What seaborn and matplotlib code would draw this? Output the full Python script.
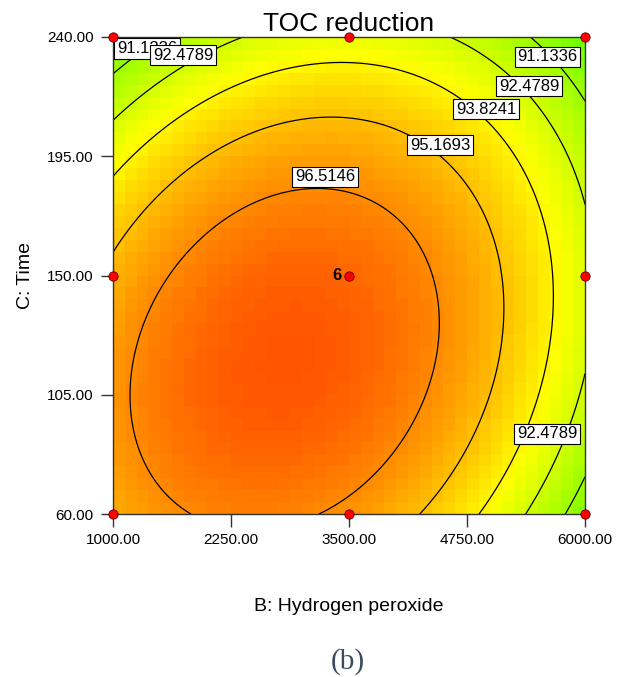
import numpy as np
import pandas as pd
import matplotlib
matplotlib.use("Agg")
import matplotlib.pyplot as plt
from matplotlib.colors import LinearSegmentedColormap
import seaborn as sns

# Factor ranges in actual units
B_RANGE = [1000.0, 6000.0]   # B: hydrogen peroxide
C_RANGE = [60.0, 240.0]      # C: time

# Fitted quadratic model in coded factors: intercept, B, C, BC, B^2, C^2
MODEL_COEFS = [97.391, -1.329, -1.567, 1.261, -3.25, -2.72]

# Contour levels shown on the plot
CONTOUR_LEVELS = [91.1336, 92.4789, 93.8241, 95.1693, 96.5146]

# Design points (factorial + centre)
DESIGN_B = [1000, 1000, 1000, 3500, 3500, 3500, 6000, 6000, 6000]
DESIGN_C = [60, 150, 240, 60, 150, 240, 60, 150, 240]
CENTER_REPLICATES = "6"

X_TICKS = [1000, 2250, 3500, 4750, 6000]
Y_TICKS = [60, 105, 150, 195, 240]

# Colour scale of the response (blue = low, red = high)
COLOR_RANGE = [74.5, 100.0]


def predict(B, C):
    b = (B - 3500.0) / 2500.0
    c = (C - 150.0) / 90.0
    k0, kb, kc, kbc, kbb, kcc = MODEL_COEFS
    return k0 + kb * b + kc * c + kbc * b * c + kbb * b ** 2 + kcc * c ** 2


sns.set_style("white")
plt.rcParams["font.family"] = ["Liberation Sans", "DejaVu Sans"]
plt.rcParams["text.color"] = "black"
plt.rcParams["axes.labelcolor"] = "black"
plt.rcParams["xtick.color"] = "black"
plt.rcParams["ytick.color"] = "black"

fig = plt.figure(figsize=(6.23, 6.77), dpi=100)
ax = fig.add_axes([113 / 623, 1 - 514 / 677, 472 / 623, 477 / 677])

# Blocky shaded surface (40 x 40 cells)
n = 40
be = np.linspace(*B_RANGE, n + 1)
ce = np.linspace(*C_RANGE, n + 1)
bc = 0.5 * (be[:-1] + be[1:])
cc = 0.5 * (ce[:-1] + ce[1:])
BB, CC = np.meshgrid(bc, cc)
Z = predict(BB, CC)
cmap = LinearSegmentedColormap.from_list(
    "de", ["#0000ff", "#00ffff", "#00ff00", "#ffff00", "#ff0000"])
ax.pcolormesh(be, ce, Z, cmap=cmap, vmin=COLOR_RANGE[0], vmax=COLOR_RANGE[1],
              shading="flat", zorder=0)

# Contour lines on a fine grid
bf = np.linspace(*B_RANGE, 300)
cf = np.linspace(*C_RANGE, 300)
BF, CF = np.meshgrid(bf, cf)
ax.contour(BF, CF, predict(BF, CF), levels=CONTOUR_LEVELS,
           colors="black", linewidths=0.9, zorder=2)

# Contour value labels
label_spots = [
    (0, 1360, 235.6),
    (1, 1742, 233.2),
    (0, 5600, 232.5),
    (1, 5407, 221.5),
    (2, 4951, 212.8),
    (3, 4464, 199.2),
    (4, 3246, 187.2),
    (1, 5600, 90.2),
]
for i, (lvl, xb, yc) in enumerate(label_spots):
    ax.text(xb, yc, f"{CONTOUR_LEVELS[lvl]:.4f}", fontsize=12,
            ha="center", va="center", zorder=3 + i * 0.01,
            bbox=dict(boxstyle="square,pad=0.16", fc="white", ec="black", lw=0.8))

# Design points
pts = pd.DataFrame({"B": DESIGN_B, "C": DESIGN_C})
sns.scatterplot(data=pts, x="B", y="C", ax=ax, s=45, color="#ff0000",
                edgecolor="#5a0000", linewidth=0.6, zorder=6, clip_on=False,
                legend=False)
ax.annotate(CENTER_REPLICATES, (3500, 150), xytext=(-5, 0),
            textcoords="offset points", ha="right", va="center",
            fontsize=12, fontweight="bold", zorder=7)

ax.set_xlim(*B_RANGE)
ax.set_ylim(*C_RANGE)
ax.set_xticks(X_TICKS)
ax.set_yticks(Y_TICKS)
ax.set_xticklabels([f"{v:.2f}" for v in X_TICKS])
ax.set_yticklabels([f"{v:.2f}" for v in Y_TICKS])
ax.tick_params(direction="out", length=9, width=1, color="#333333",
               labelsize=11, pad=5, bottom=True, left=True)
for sp in ax.spines.values():
    sp.set_color("#333333")
    sp.set_linewidth(1.0)

ax.set_title("TOC reduction", fontsize=19, pad=4)
ax.set_xlabel("B: Hydrogen peroxide", fontsize=14)
ax.set_ylabel("C: Time", fontsize=14)
ax.xaxis.set_label_coords(0.5, -0.176)
ax.yaxis.set_label_coords(-0.168, 0.5)

fig.text(348 / 623, 1 - 662 / 677, "(b)", fontsize=21, ha="center", va="center",
         family="Liberation Serif", color="#3b4a63")

fig.savefig("out.png", dpi=100)
